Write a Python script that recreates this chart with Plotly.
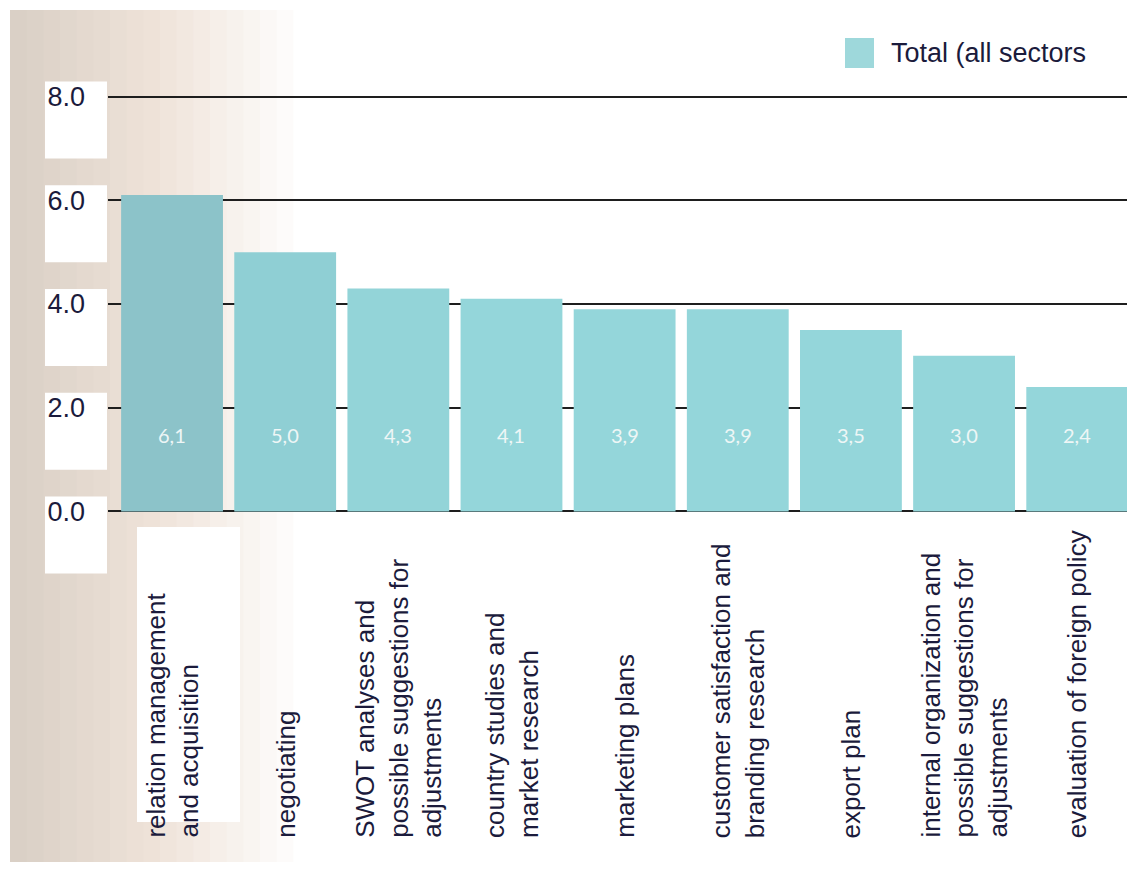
import plotly.graph_objects as go

# ---------------- data ----------------
categories = [
    "relation management<br>and acquisition",
    "negotiating",
    "SWOT analyses and<br>possible suggestions for<br>adjustments",
    "country studies and<br>market research",
    "marketing plans",
    "customer satisfaction and<br>branding research",
    "export plan",
    "internal organization and<br>possible suggestions for<br>adjustments",
    "evaluation of foreign policy",
]
values = [6.1, 5.0, 4.3, 4.1, 3.9, 3.9, 3.5, 3.0, 2.4]
series_name = "Total (all sectors"
y_ticks = [0, 2, 4, 6, 8]
y_tick_labels = ["0.0", "2.0", "4.0", "6.0", "8.0"]
bar_colors = ["#8cc3c9", "#8fcfd4", "#93d4d8", "#94d6da", "#94d6da",
              "#94d6da", "#94d6da", "#94d6da", "#94d6da"]

# ---------------- layout geometry (screen px) ----------------
W, H = 1127, 874
SCR_L, SCR_R, SCR_T, SCR_B = 108, 1127, 94, 514   # plot area on screen
ML, MT = SCR_L, SCR_T
MR = W - SCR_R
MB = H - SCR_B
YR = [-0.05, 8.05]
XR = [-0.566, 8.44]
TEXT_COLOR = "#1b1b3c"
FONT = "Liberation Sans, Arial, sans-serif"
PH = SCR_B - SCR_T

def px_x(p):
    return (p - SCR_L) / (SCR_R - SCR_L)

def px_y(p):
    return (SCR_B - p) / PH

def val_y(v):
    return (v - YR[0]) / (YR[1] - YR[0])

fig = go.Figure()
fig.add_trace(go.Bar(
    x=categories, y=values, name=series_name,
    marker=dict(color=bar_colors, line=dict(width=0)),
    width=0.9, showlegend=False, hoverinfo="x+y",
))

shapes = []
# scanned-page beige gradient at the left
n = 18
x_start, x_end = 10, 310
c0 = (218, 208, 198)
c_mid = (240, 228, 218)
for i in range(n):
    t = i / (n - 1)
    if t < 0.5:
        a = t / 0.5
        c = tuple(int(c0[k] + (c_mid[k] - c0[k]) * a) for k in range(3))
    else:
        a = (t - 0.5) / 0.5
        c = tuple(int(c_mid[k] + (255 - c_mid[k]) * a) for k in range(3))
    x0 = x_start + (x_end - x_start) * i / n
    x1 = x_start + (x_end - x_start) * (i + 1) / n + 1
    shapes.append(dict(type="rect", xref="paper", yref="paper",
                       x0=px_x(x0), x1=px_x(x1), y0=px_y(862), y1=px_y(10),
                       fillcolor="rgb(%d,%d,%d)" % c, line=dict(width=0),
                       layer="below"))
# white boxes behind y tick labels
for v in y_ticks:
    shapes.append(dict(type="rect", xref="paper", yref="paper",
                       x0=px_x(45), x1=px_x(107),
                       y0=val_y(v) - 62 / PH,
                       y1=val_y(v) + 15 / PH,
                       fillcolor="white", line=dict(width=0), layer="below"))
# white box behind first category label
shapes.append(dict(type="rect", xref="paper", yref="paper",
                   x0=px_x(137), x1=px_x(240), y0=px_y(822), y1=px_y(527),
                   fillcolor="white", line=dict(width=0), layer="below"))
# legend swatch
shapes.append(dict(type="rect", xref="paper", yref="paper",
                   x0=px_x(845), x1=px_x(874), y0=px_y(68), y1=px_y(38),
                   fillcolor="#9ed8db", line=dict(width=0)))

annotations = []
# value labels inside bars
for c, v in zip(categories, values):
    annotations.append(dict(
        x=c, y=1.47, xref="x", yref="y", showarrow=False,
        text=("%.1f" % v).replace(".", ","),
        font=dict(family="Lato, sans-serif", size=20, color="#eef6f6"),
    ))
# category labels (rotated)
for c in categories:
    annotations.append(dict(
        x=c, xref="x", y=px_y(840), yref="paper", showarrow=False,
        text=c, textangle=-90, xanchor="center", yanchor="bottom",
        align="left",
        font=dict(family=FONT, size=26, color=TEXT_COLOR),
    ))
# legend text
annotations.append(dict(
    x=px_x(889), y=px_y(53), xref="paper", yref="paper", showarrow=False,
    text=series_name, xanchor="left", yanchor="middle",
    font=dict(family=FONT, size=27, color=TEXT_COLOR),
))

fig.update_layout(
    width=W, height=H,
    margin=dict(l=ML, r=MR, t=MT, b=MB, pad=0),
    paper_bgcolor="white", plot_bgcolor="rgba(0,0,0,0)",
    bargap=0.1,
    shapes=shapes, annotations=annotations,
    showlegend=False,
    xaxis=dict(range=XR, showticklabels=False, showgrid=False,
               zeroline=False, showline=False, ticks=""),
    yaxis=dict(range=YR, tickvals=y_ticks, ticktext=y_tick_labels,
               showgrid=True, gridcolor="#1e1e1e", gridwidth=1.5,
               zeroline=True, zerolinecolor="#1e1e1e", zerolinewidth=1.5,
               showline=False, ticks="", ticklabelstandoff=22,
               tickfont=dict(family=FONT, size=27, color=TEXT_COLOR)),
)

fig.write_html(
    "out.html",
    config={"displayModeBar": False},
    post_script="document.body.style.margin='0';document.body.style.overflow='hidden';",
)
